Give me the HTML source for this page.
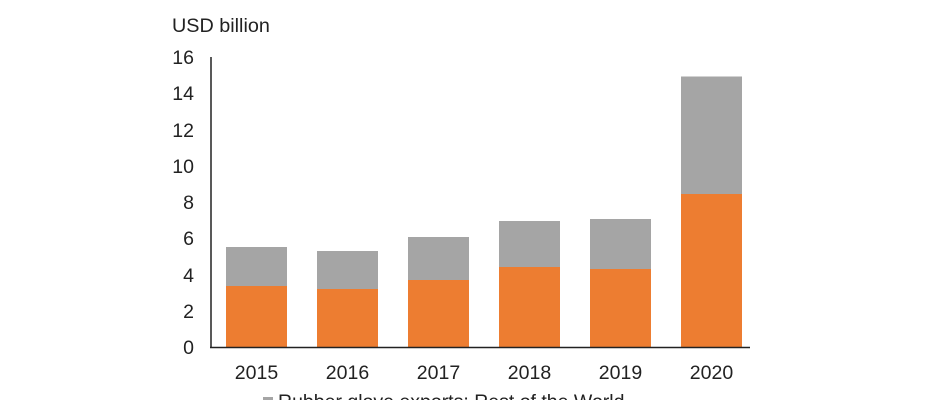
<!DOCTYPE html>
<html><head><style>body{margin:0;background:#fff}svg{display:block}text{font-family:"Liberation Sans",Arial,sans-serif;fill:#222}</style></head>
<body>
<svg width="940" height="400" viewBox="0 0 940 400" xmlns="http://www.w3.org/2000/svg">
<text x="172" y="32" font-size="19.8">USD billion</text>
<g font-size="19.5" text-anchor="end">
<text x="194" y="64">16</text><text x="194" y="100">14</text><text x="194" y="137">12</text><text x="194" y="173">10</text><text x="194" y="209">8</text><text x="194" y="245">6</text><text x="194" y="282">4</text><text x="194" y="318">2</text><text x="194" y="354">0</text>
</g>
<g fill="#a5a5a5">
<rect x="226" y="247" width="61" height="100"/>
<rect x="317" y="251" width="61" height="96"/>
<rect x="408" y="237" width="61" height="110"/>
<rect x="499" y="221" width="61" height="126"/>
<rect x="590" y="219" width="61" height="128"/>
<rect x="681" y="76.5" width="61" height="270.5"/>
</g>
<g fill="#ed7d31">
<rect x="226" y="286" width="61" height="61"/>
<rect x="317" y="289" width="61" height="58"/>
<rect x="408" y="280" width="61" height="67"/>
<rect x="499" y="267" width="61" height="80"/>
<rect x="590" y="269" width="61" height="78"/>
<rect x="681" y="194" width="61" height="153"/>
</g>
<line x1="211" y1="57" x2="211" y2="347.5" stroke="#222" stroke-width="1.5"/>
<line x1="210" y1="347.5" x2="750" y2="347.5" stroke="#222" stroke-width="1.5"/>
<g font-size="19.5" text-anchor="middle">
<text x="256.5" y="379">2015</text><text x="347.5" y="379">2016</text><text x="438.5" y="379">2017</text><text x="529.5" y="379">2018</text><text x="620.5" y="379">2019</text><text x="711.5" y="379">2020</text>
</g>
<rect x="263" y="397" width="10" height="10" fill="#a5a5a5"/>
<text x="278" y="408" font-size="19.5">Rubber glove exports: Rest of the World</text>
</svg>
</body></html>
